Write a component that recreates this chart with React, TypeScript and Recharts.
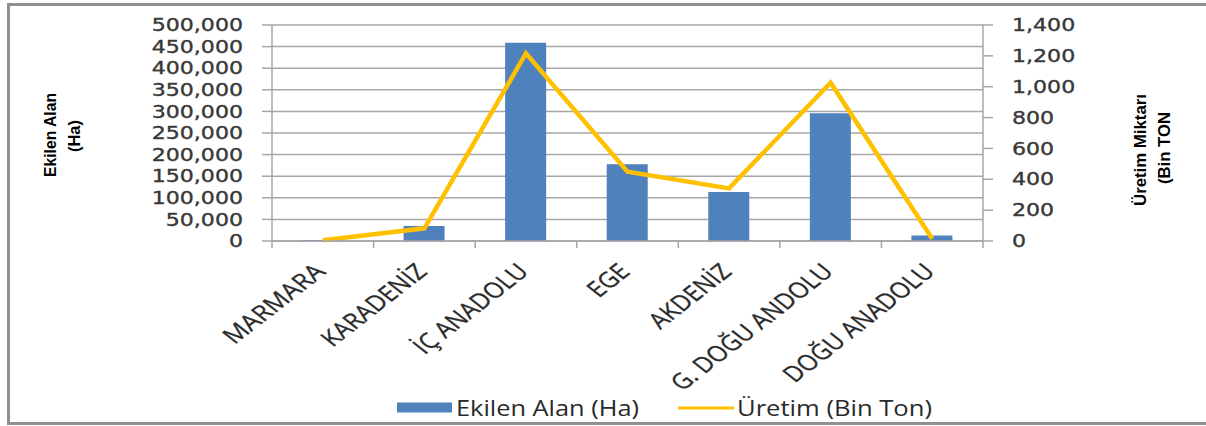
import React from 'react';
import { ComposedChart, Bar, Line, XAxis, YAxis, CartesianGrid, Legend } from 'recharts';

const categories = ['MARMARA', 'KARADENİZ', 'İÇ ANADOLU', 'EGE', 'AKDENİZ', 'G. DOĞU ANDOLU', 'DOĞU ANADOLU'];
const ekilenAlan = [2500, 35000, 459000, 177500, 113500, 295500, 13000];
const uretim = [5, 82, 1216, 449, 341, 1026, 15];
const leftTicks = [0, 50000, 100000, 150000, 200000, 250000, 300000, 350000, 400000, 450000, 500000];
const rightTicks = [0, 200, 400, 600, 800, 1000, 1200, 1400];

const data = categories.map((name, i) => ({ name, alan: ekilenAlan[i], uretim: uretim[i] }));

const W = 1206;
const H = 426;
const PLOT_LEFT = 272;
const PLOT_RIGHT = 983;
const HALF_BAND = (PLOT_RIGHT - PLOT_LEFT) / (2 * categories.length);
const GRID = '#a6a6a6';
const TXT = '#383838';
const fmt = (v: number) => v.toLocaleString('en-US');

// approximate Calibri-like advance widths (em) to size the rotated labels
const CW: Record<string, number> = {
  A: 0.579, C: 0.533, D: 0.615, E: 0.488, G: 0.631, I: 0.252, K: 0.52, L: 0.42, M: 0.855, N: 0.646,
  O: 0.662, R: 0.543, U: 0.653, Z: 0.478, 'Ç': 0.533, 'İ': 0.252, 'Ğ': 0.631, ' ': 0.226, '.': 0.252,
};
const labelLen = (s: string) => 22.5 * Array.from(s).reduce((a, ch) => a + (CW[ch] ?? 0.58), 0);

const LeftTick = (props: any) => {
  const { x, y, payload } = props;
  return (
    <text transform={`translate(${x},${y}) scale(1.3,1)`} textAnchor="end" dy="0.36em"
      fontFamily="DejaVu Sans" fontSize={17} fill={TXT} stroke={TXT} strokeWidth={0.35}>{fmt(payload.value)}</text>
  );
};

const RightTick = (props: any) => {
  const { x, y, payload } = props;
  return (
    <text transform={`translate(${x},${y}) scale(1.3,1)`} textAnchor="start" dy="0.36em"
      fontFamily="DejaVu Sans" fontSize={17} fill={TXT} stroke={TXT} strokeWidth={0.35}>{fmt(payload.value)}</text>
  );
};

const CatTick = (props: any) => {
  const { x, y, payload, index } = props;
  const axisY = y - 8;
  const last = index === categories.length - 1;
  return (
    <g>
      <line x1={x - HALF_BAND} x2={x - HALF_BAND} y1={axisY} y2={axisY + 7} stroke={GRID} strokeWidth={1.5} />
      {last && <line x1={x + HALF_BAND} x2={x + HALF_BAND} y1={axisY} y2={axisY + 7} stroke={GRID} strokeWidth={1.5} />}
      <text transform={`translate(${x + 4},${y + 24}) scale(1.28,1) rotate(-45)`} textAnchor="end"
        fontFamily="Open Sans" fontSize={22} fill="#2a2a2a" stroke="#2a2a2a" strokeWidth={0.3}
        textLength={labelLen(payload.value)} lengthAdjust="spacingAndGlyphs">{payload.value}</text>
    </g>
  );
};

const LegendContent = () => (
  <svg width={560} height={32} style={{ display: 'block' }}>
    <rect x={7} y={10.5} width={55} height={10} fill="#4f81bd" />
    <text x={66} y={24} fontFamily="Open Sans" fontSize={21} fill="#2a2a2a" textLength={183} lengthAdjust="spacingAndGlyphs">Ekilen Alan (Ha)</text>
    <line x1={288} x2={344} y1={16} y2={16} stroke="#ffc000" strokeWidth={3} />
    <text x={347} y={24} fontFamily="Open Sans" fontSize={21} fill="#2a2a2a" textLength={195} lengthAdjust="spacingAndGlyphs">Üretim (Bin Ton)</text>
  </svg>
);

export default function App() {
  return (
    <div style={{ position: 'absolute', left: 0, top: 0, width: W, height: H, overflow: 'hidden', background: '#fff' }}>
      <div style={{ position: 'absolute', left: 7, top: 3, width: 1230, height: 416, border: '3px solid #8f8f8f' }} />
      <div style={{ position: 'absolute', left: 0, top: 0 }}>
        <ComposedChart width={W} height={H} data={data} margin={{ top: 25, left: 172, right: 123, bottom: 35 }}>
          <CartesianGrid yAxisId="left" vertical={false} stroke={GRID} strokeWidth={1.5} />
          <XAxis dataKey="name" height={150} tickLine={false} axisLine={{ stroke: GRID, strokeWidth: 1.5 }}
            tickSize={6} tickMargin={2} interval={0} tick={<CatTick />} />
          <YAxis yAxisId="left" width={100} domain={[0, 500000]} ticks={leftTicks} interval={0}
            tickSize={10} tickMargin={19} tick={<LeftTick />} tickLine={{ stroke: GRID, strokeWidth: 1.5 }}
            axisLine={{ stroke: GRID, strokeWidth: 1.5 }} />
          <YAxis yAxisId="right" orientation="right" width={100} domain={[0, 1400]} ticks={rightTicks} interval={0}
            tickSize={10} tickMargin={19} tick={<RightTick />} tickLine={{ stroke: GRID, strokeWidth: 1.5 }}
            axisLine={{ stroke: GRID, strokeWidth: 1.5 }} />
          <Bar yAxisId="left" dataKey="alan" name="Ekilen Alan (Ha)" fill="#4f81bd" barSize={41} isAnimationActive={false} />
          <Line yAxisId="right" dataKey="uretim" name="Üretim (Bin Ton)" type="linear" stroke="#ffc000" strokeWidth={4.5}
            dot={false} activeDot={false} isAnimationActive={false} />
          <Legend layout="vertical" align="center" verticalAlign="middle" content={<LegendContent />}
            wrapperStyle={{ left: 390, top: 392, width: 560, height: 32 }} />
        </ComposedChart>
      </div>
      <svg width={W} height={H} style={{ position: 'absolute', left: 0, top: 0, pointerEvents: 'none' }}>
        <text transform="translate(56,135) rotate(-90)" textAnchor="middle" fontFamily="Liberation Sans" fontWeight="bold"
          fontSize={16} fill="#000" textLength={84} lengthAdjust="spacingAndGlyphs">Ekilen Alan</text>
        <text transform="translate(80,136) rotate(-90)" textAnchor="middle" fontFamily="Liberation Sans" fontWeight="bold"
          fontSize={16} fill="#000" textLength={32} lengthAdjust="spacingAndGlyphs">(Ha)</text>
        <text transform="translate(1146,150) rotate(-90)" textAnchor="middle" fontFamily="Liberation Sans" fontWeight="bold"
          fontSize={16} fill="#000" textLength={112} lengthAdjust="spacingAndGlyphs">Üretim Miktarı</text>
        <text transform="translate(1170,148) rotate(-90)" textAnchor="middle" fontFamily="Liberation Sans" fontWeight="bold"
          fontSize={16} fill="#000" textLength={72} lengthAdjust="spacingAndGlyphs">(Bin TON</text>
      </svg>
    </div>
  );
}
